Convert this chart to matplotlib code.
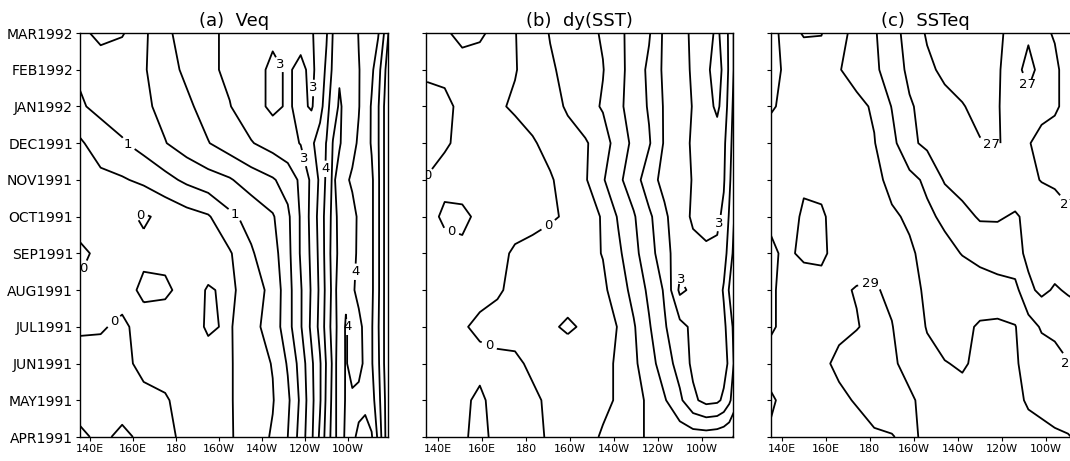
import numpy as np
import matplotlib
matplotlib.use('Agg')
import matplotlib.pyplot as plt

# ---------------- data ----------------
months = ['APR1991', 'MAY1991', 'JUN1991', 'JUL1991', 'AUG1991', 'SEP1991',
          'OCT1991', 'NOV1991', 'DEC1991', 'JAN1992', 'FEB1992', 'MAR1992']
time_idx = list(range(12))
lon_ticks = [140, 160, 180, 200, 220, 240, 260]
lon_tick_labels = ['140E', '160E', '180', '160W', '140W', '120W', '100W']

# (a) Veq  (rows: APR1991 ... MAR1992)
lon_a = [135, 145, 155, 165, 175, 185, 195, 205, 215, 225, 232, 238, 243, 247,
         250, 253, 256, 259, 262, 265, 268, 271, 274, 277, 280]
veq = [
    [0.1, -0.1, 0.1, -0.1, -0.1, 0.1, 0.3, 0.45, 0.75, 1.05, 1.5, 2.2, 2.9, 3.6, 4.2, 4.7, 4.3, 3.9, 3.9, 4.1, 4.15, 4.05, 3.4, 2.6, 1.8],
    [-0.2, -0.3, -0.2, -0.1, -0.05, 0.2, 0.3, 0.45, 0.8, 0.97, 1.4, 2.1, 2.85, 3.45, 4.1, 4.65, 4.35, 3.95, 3.9, 3.85, 3.9, 3.7, 3.2, 2.55, 1.8],
    [-0.3, -0.2, -0.1, 0.1, 0.2, 0.25, 0.35, 0.45, 0.8, 1.02, 1.55, 2.2, 2.9, 3.45, 4.05, 4.6, 4.4, 3.95, 4.2, 4.15, 3.9, 3.55, 3.1, 2.45, 1.8],
    [0.1, 0.05, -0.1, 0.2, 0.3, 0.3, 0.55, 0.45, 0.85, 1.2, 1.8, 2.45, 3.1, 3.65, 4.2, 4.7, 4.35, 3.95, 4.2, 4.1, 3.9, 3.55, 3.05, 2.45, 1.8],
    [0.05, 0.1, 0.2, -0.1, -0.1, 0.2, 0.55, 0.4, 0.75, 1.15, 1.8, 2.45, 3.05, 3.6, 4.15, 4.65, 4.35, 4.1, 4.05, 3.9, 3.85, 3.6, 3.1, 2.45, 1.8],
    [-0.1, 0.1, 0.15, 0.1, 0.15, 0.1, 0.2, 0.45, 0.95, 1.3, 1.85, 2.55, 3.1, 3.65, 4.2, 4.7, 4.4, 4.2, 4.15, 3.9, 3.85, 3.6, 3.1, 2.45, 1.8],
    [0.2, 0.3, 0.1, -0.05, 0.1, 0.3, 0.45, 0.9, 1.15, 1.45, 1.9, 2.55, 3.15, 3.7, 4.2, 4.65, 4.4, 4.15, 4.1, 3.95, 3.85, 3.6, 3.1, 2.45, 1.8],
    [0.3, 0.35, 0.45, 0.6, 0.85, 1.1, 1.3, 1.45, 1.75, 1.95, 2.2, 2.6, 3.1, 3.6, 4.1, 4.6, 4.3, 4.05, 3.95, 3.9, 3.85, 3.6, 3.1, 2.45, 1.8],
    [0.4, 0.8, 0.95, 1.2, 1.48, 1.75, 1.98, 2.25, 2.47, 2.7, 2.85, 3.02, 3.4, 3.75, 4.02, 4.52, 4.55, 4.3, 4.1, 3.95, 3.75, 3.45, 3.05, 2.45, 1.8],
    [0.95, 1.1, 1.25, 1.4, 1.65, 1.9, 2.2, 2.48, 2.8, 3.1, 2.95, 3.1, 2.95, 3.3, 3.8, 4.3, 4.55, 4.4, 4.2, 4.02, 3.8, 3.45, 3.05, 2.45, 1.8],
    [1.05, 1.2, 1.4, 1.45, 1.8, 2.1, 2.4, 2.6, 2.8, 3.1, 2.95, 3.1, 2.9, 3.2, 3.6, 4.1, 4.45, 4.4, 4.2, 4.02, 3.85, 3.6, 3.2, 2.6, 1.9],
    [1.1, 0.9, 0.95, 1.4, 1.9, 2.2, 2.4, 2.6, 2.75, 2.9, 2.9, 2.85, 2.95, 3.2, 3.45, 4.02, 4.3, 4.4, 4.2, 3.98, 3.85, 3.7, 3.55, 2.95, 2.2],
]

# (b) dy(SST)
lon_b = [135, 143, 151, 159, 167, 175, 183, 191, 199, 207, 215, 222, 229, 236,
         243, 250, 256, 262, 267, 270, 272.5, 275]
dysst = [
    [-0.3, -0.3, -0.1, 0.2, -0.2, -0.2, -0.1, 0.05, 0.2, 0.35, 0.55, 0.75, 0.9, 1.05, 1.15, 1.2, 1.25, 1.25, 1.2, 1.15, 1.1, 0.95],
    [-0.3, -0.2, -0.1, 0.1, -0.2, -0.1, -0.05, 0.05, 0.2, 0.3, 0.4, 0.55, 0.8, 1.1, 1.45, 1.9, 2.4, 2.65, 2.6, 2.4, 2.1, 1.7],
    [-0.4, -0.3, -0.2, -0.15, -0.1, -0.05, 0.05, 0.1, 0.2, 0.3, 0.4, 0.55, 0.9, 1.3, 1.75, 2.2, 2.6, 2.8, 2.85, 2.7, 2.4, 1.9],
    [-0.3, -0.2, -0.05, 0.1, 0.15, 0.1, 0.1, 0.05, -0.05, 0.05, 0.3, 0.52, 0.95, 1.45, 1.95, 2.35, 2.6, 2.75, 2.8, 2.6, 2.3, 1.8],
    [-0.3, -0.25, -0.2, -0.15, -0.05, 0.1, 0.15, 0.15, 0.15, 0.2, 0.4, 0.75, 1.15, 1.6, 2.05, 3.1, 2.9, 2.8, 2.75, 2.45, 1.95, 1.6],
    [-0.3, -0.2, -0.1, -0.15, -0.1, 0.05, 0.1, 0.2, 0.25, 0.35, 0.52, 0.9, 1.35, 1.8, 2.3, 2.8, 2.9, 2.95, 2.9, 2.7, 2.3, 1.8],
    [-0.2, 0.1, 0.1, -0.1, -0.2, -0.15, -0.1, -0.05, 0.05, 0.25, 0.55, 1.05, 1.45, 1.9, 2.4, 2.85, 3.05, 3.1, 3.1, 2.9, 2.45, 1.95],
    [-0.02, -0.15, -0.2, -0.25, -0.2, -0.15, -0.1, -0.05, 0.2, 0.45, 0.95, 1.4, 1.75, 2.3, 2.65, 2.85, 3.02, 3.2, 3.2, 3.05, 2.6, 2.1],
    [0.15, 0.05, -0.1, -0.2, -0.2, -0.15, -0.05, 0.15, 0.35, 0.45, 0.75, 1.25, 1.6, 1.95, 2.55, 2.85, 3.05, 3.2, 3.25, 3.1, 2.7, 2.2],
    [0.2, 0.1, -0.1, -0.15, -0.05, 0.05, 0.2, 0.35, 0.55, 0.8, 1.05, 1.4, 1.7, 2.05, 2.55, 2.8, 3.02, 3.3, 3.6, 3.3, 2.8, 2.3],
    [-0.1, -0.1, -0.15, -0.15, -0.1, -0.02, 0.15, 0.45, 0.6, 0.8, 0.98, 1.35, 1.7, 2.1, 2.6, 2.85, 3.05, 3.4, 3.7, 3.4, 2.9, 2.4],
    [-0.15, -0.05, 0.1, 0.05, -0.1, -0.02, 0.3, 0.52, 0.7, 0.85, 1.05, 1.4, 1.65, 1.95, 2.6, 2.9, 3.05, 3.3, 3.6, 3.3, 2.9, 2.4],
]

# (c) SSTeq
lon_c = [135, 142, 150, 158, 166, 174, 182, 190, 198, 206, 214, 222, 230, 238,
         246, 252, 258, 264, 270, 275]
sst = [
    [28.95, 28.8, 28.75, 28.8, 28.85, 28.9, 28.95, 28.98, 29.1, 28.9, 28.9, 28.85, 28.8, 28.75, 28.7, 28.65, 28.6, 28.55, 28.52, 28.45],
    [29.05, 28.9, 28.8, 28.85, 28.95, 29.02, 29.15, 29.2, 29.05, 28.9, 28.7, 28.65, 28.7, 28.7, 28.6, 28.45, 28.4, 28.35, 28.3, 28.2],
    [28.85, 28.95, 28.9, 28.95, 29.05, 29.2, 29.2, 29.05, 28.9, 28.6, 28.52, 28.45, 28.6, 28.65, 28.55, 28.35, 28.25, 28.15, 28.02, 27.9],
    [29.05, 28.9, 28.85, 28.9, 28.95, 28.98, 29.1, 29.02, 28.7, 28.48, 28.3, 28.4, 28.55, 28.6, 28.52, 28.2, 27.95, 27.9, 27.8, 27.7],
    [29.05, 28.9, 28.85, 28.9, 28.95, 29.02, 29.05, 28.9, 28.6, 28.45, 28.35, 28.3, 28.25, 28.15, 28.15, 27.6, 27.4, 27.55, 27.45, 27.4],
    [29.05, 28.95, 29.05, 29.05, 28.9, 28.85, 28.8, 28.7, 28.55, 28.4, 28.15, 27.98, 27.85, 27.8, 27.65, 27.4, 27.3, 27.25, 27.2, 27.15],
    [28.95, 28.85, 29.05, 29.05, 28.85, 28.75, 28.65, 28.55, 28.45, 28.1, 27.9, 27.65, 27.45, 27.45, 27.55, 27.4, 27.3, 27.15, 27.05, 27.02],
    [28.85, 28.75, 28.95, 28.9, 28.8, 28.7, 28.6, 28.4, 28.15, 27.9, 27.45, 27.3, 27.2, 27.15, 27.2, 27.1, 26.98, 26.95, 26.9, 26.85],
    [28.8, 28.75, 28.8, 28.75, 28.7, 28.6, 28.52, 28.15, 27.6, 27.4, 27.3, 27.15, 27.02, 26.98, 27.1, 27.02, 26.9, 26.85, 26.8, 26.75],
    [29.05, 28.9, 28.8, 28.75, 28.7, 28.6, 28.45, 27.98, 27.55, 27.35, 27.15, 27.02, 26.9, 26.98, 27.15, 27.1, 27.1, 27.05, 26.9, 26.85],
    [29.1, 28.95, 28.85, 28.75, 28.52, 28.35, 28.1, 27.75, 27.4, 27.1, 26.9, 26.85, 26.9, 26.98, 27.1, 26.9, 27.1, 27.05, 26.9, 26.85],
    [29.1, 28.9, 29.02, 29.02, 28.6, 28.4, 28.05, 27.7, 27.3, 26.95, 26.8, 26.75, 26.8, 26.95, 27.1, 27.05, 27.05, 26.98, 26.85, 26.8],
]

levels_a = [-1.0, -0.5, 0.0, 0.5, 1.0, 1.5, 2.0, 2.5, 3.0, 3.5, 4.0, 4.5, 5.0, 5.5, 6.0, 6.5]
levels_b = [-1.0, -0.5, 0.0, 0.5, 1.0, 1.5, 2.0, 2.5, 3.0, 3.5, 4.0]
levels_c = [26.0, 26.5, 27.0, 27.5, 28.0, 28.5, 29.0, 29.5, 30.0]

# ---------------- figure ----------------
W, H = 1070, 461
fig = plt.figure(figsize=(W / 100, H / 100), dpi=100)

panels = [
    dict(rect=[80 / W, 24 / H, 308 / W, 404 / H], lon=lon_a, z=veq, levels=levels_a,
         xlim=(135.4, 278.6), title='(a)  Veq',
         labels=[(0.0, [(137, 4.6), (152.6, 3.05), (163, 6.1)]),
                 (1.0, [(158, 8.0), (208, 6.1)]),
                 (3.0, [(227, 10.1), (240, 7.6), (245, 9.5)]),
                 (4.0, [(251, 7.3), (263, 4.5), (262, 3.0)])]),
    dict(rect=[426 / W, 24 / H, 307 / W, 404 / H], lon=lon_b, z=dysst, levels=levels_b,
         xlim=(134.5, 274.2), title='(b)  dy(SST)',
         labels=[(0.0, [(136, 7.05), (146, 5.6), (192, 5.6), (163, 2.45)]),
                 (3.0, [(264.6, 5.86), (251, 4.3)])]),
    dict(rect=[771 / W, 24 / H, 308 / W, 404 / H], lon=lon_c, z=sst, levels=levels_c,
         xlim=(135.1, 275.0), title='(c)  SSTeq',
         labels=[(27.0, [(251.8, 9.6), (235.3, 8.0), (269.5, 6.27)]),
                 (28.0, [(268.6, 1.9)]),
                 (29.0, [(180, 4.28)])]),
]

for i, p in enumerate(panels):
    ax = fig.add_axes(p['rect'])
    z = np.array(p['z'])
    lab_levels = [lev for lev, _ in p['labels']]
    plain = [l for l in p['levels'] if l not in lab_levels]
    ax.contour(p['lon'], time_idx, z, levels=plain, colors='black', linewidths=1.3)
    for lev, pos in p['labels']:
        csl = ax.contour(p['lon'], time_idx, z, levels=[lev], colors='black',
                         linewidths=1.3)
        texts = ax.clabel(csl, manual=pos, fmt='%g', fontsize=9.5, inline=True,
                          inline_spacing=4)
        for t in texts:
            t.set_rotation(0)
    ax.set_xlim(*p['xlim'])
    ax.set_ylim(0, 11)
    ax.set_xticks(lon_ticks)
    ax.set_xticklabels(lon_tick_labels, fontsize=8)
    ax.set_yticks(time_idx)
    if i == 0:
        ax.set_yticklabels(months, fontsize=10)
    else:
        ax.set_yticklabels([])
    ax.tick_params(direction='out', length=3, width=0.8, pad=2)
    for s in ax.spines.values():
        s.set_linewidth(1.0)
    ax.set_title(p['title'], fontsize=13, pad=5)

fig.savefig('out.png', dpi=100)
